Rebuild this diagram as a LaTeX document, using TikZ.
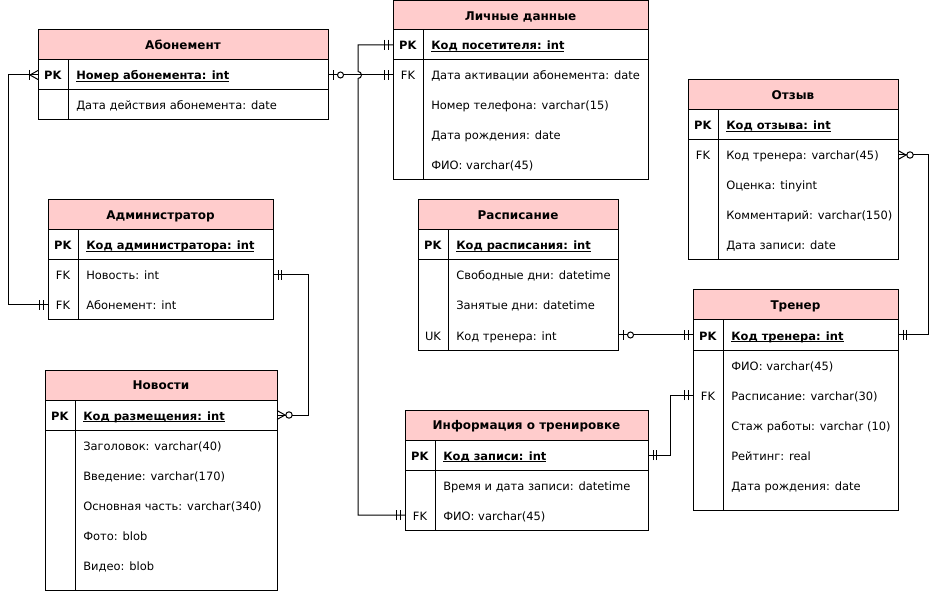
\documentclass[tikz,border=0pt]{standalone}
\usepackage{fontspec}
\setmainfont{DejaVu Sans}
\usetikzlibrary{decorations.markings}
\definecolor{hdrpink}{HTML}{FFCCCC}
\def\pxu{0.75pt}
\newcommand\pkul[1]{\setbox0\hbox{#1}\rlap{\rule[-1.8pt]{\wd0}{0.7pt}}\box0}
\newcommand\erbox[5]{% name, L, top, W, bottom
  \draw[tline] (#2,#3+30) rectangle (#2+#4,#5);
  \draw[tline] (#2,#3+60) -- (#2+#4,#3+60);
  \draw[tline] (#2+30,#3+30) -- (#2+30,#5);
}
\newcommand\erfield[6]{%
  \node[slot, minimum width=#4*\pxu, anchor=west] (#1) at (#2,#3) {};
  \ifx\relax#5\relax\else
  \node[keyt] (#1-k) at ([xshift=15*\pxu, yshift=-5*\pxu]#1.west) {#5};
  \fi
  \node[fieldt] (#1-t) at ([xshift=38*\pxu, yshift=-5*\pxu]#1.west) {#6};
}
\tikzset{
  tline/.style={draw=black, line width=\pxu},
  hdr/.style={draw=black, fill=hdrpink, line width=\pxu, inner sep=0pt, outer sep=0pt,
    minimum height=30*\pxu, text height=8.5pt, text depth=1.5pt,
    font=\fontsize{9}{11}\selectfont\bfseries},
  slot/.style={inner sep=0pt, outer sep=0pt, minimum height=30*\pxu},
  keyt/.style={inner sep=0pt, anchor=base, font=\fontsize{8.6}{11}\selectfont},
  fieldt/.style={inner sep=0pt, anchor=base west, font=\fontsize{8.6}{11}\selectfont},
  conn/.style={draw=black, line width=\pxu},
  mk/.style={draw=black, line width=\pxu},
  mandOneS/.style={postaction={decorate, decoration={markings,
    mark=at position 3.75pt with {\draw[mk] (0pt,-3.75pt) -- (0pt,3.75pt);},
    mark=at position 6.375pt with {\draw[mk] (0pt,-3.75pt) -- (0pt,3.75pt);}}}},
  mandOneE/.style={postaction={decorate, decoration={markings,
    mark=at position -3.75pt with {\draw[mk] (0pt,-3.75pt) -- (0pt,3.75pt);},
    mark=at position -6.375pt with {\draw[mk] (0pt,-3.75pt) -- (0pt,3.75pt);}}}},
  zeroOneS/.style={postaction={decorate, decoration={markings,
    mark=at position 3.75pt with {\draw[mk] (0pt,-3.75pt) -- (0pt,3.75pt);},
    mark=at position 9.375pt with {\draw[mk, fill=white] (0pt,0pt) circle (2.25pt);}}}},
  zeroManyS/.style={postaction={decorate, decoration={markings,
    mark=at position 6pt with {\draw[mk] (-6pt,3.375pt) -- (0pt,0pt) -- (-6pt,-3.375pt);},
    mark=at position 9pt with {\draw[mk, fill=white] (0pt,0pt) circle (2.4pt);}}}},
  zeroManyE/.style={postaction={decorate, decoration={markings,
    mark=at position -6pt with {\draw[mk] (6pt,3.375pt) -- (0pt,0pt) -- (6pt,-3.375pt);},
    mark=at position -9pt with {\draw[mk, fill=white] (0pt,0pt) circle (2.4pt);}}}},
  oneManyS/.style={postaction={decorate, decoration={markings,
    mark=at position 6pt with {\draw[mk] (-6pt,3.375pt) -- (0pt,0pt) -- (-6pt,-3.375pt);},
    mark=at position 6.4pt with {\draw[mk] (0pt,-3.75pt) -- (0pt,3.75pt);}}}},
}
\begin{document}
\begin{tikzpicture}[x=0.75pt, y=-0.75pt]
\useasboundingbox[fill=white] (0,0) rectangle (938,591);

% ---------- Абонемент ----------
\node[hdr, minimum width=290*\pxu, anchor=north west] (ab) at (38,30) {Абонемент};
\erbox{ab}{38}{30}{290}{120}
\erfield{ab-pk}{38}{75}{290}{\textbf{PK}}{\textbf{\pkul{Номер абонемента: int}}}
\erfield{ab-r1}{38}{105}{290}{}{Дата действия абонемента: date}

% ---------- Личные данные ----------
\node[hdr, minimum width=255*\pxu, minimum height=29*\pxu, anchor=north west] (ld) at (393,1) {Личные данные};
\erbox{ld}{393}{0}{255}{180}
\erfield{ld-pk}{393}{45}{255}{\textbf{PK}}{\textbf{\pkul{Код посетителя: int}}}
\erfield{ld-fk}{393}{75}{255}{FK}{Дата активации абонемента: date}
\erfield{ld-r2}{393}{105}{255}{}{Номер телефона: varchar(15)}
\erfield{ld-r3}{393}{135}{255}{}{Дата рождения: date}
\erfield{ld-r4}{393}{165}{255}{}{ФИО: varchar(45)}

% ---------- Отзыв ----------
\node[hdr, minimum width=210*\pxu, anchor=north west] (oz) at (688,80) {Отзыв};
\erbox{oz}{688}{80}{210}{260}
\erfield{oz-pk}{688}{125}{210}{\textbf{PK}}{\textbf{\pkul{Код отзыва: int}}}
\erfield{oz-fk}{688}{155}{210}{FK}{Код тренера: varchar(45)}
\erfield{oz-r2}{688}{185}{210}{}{Оценка: tinyint}
\erfield{oz-r3}{688}{215}{210}{}{Комментарий: varchar(150)}
\erfield{oz-r4}{688}{245}{210}{}{Дата записи: date}

% ---------- Администратор ----------
\node[hdr, minimum width=225*\pxu, anchor=north west] (ad) at (48,200) {Администратор};
\erbox{ad}{48}{200}{225}{320}
\erfield{ad-pk}{48}{245}{225}{\textbf{PK}}{\textbf{\pkul{Код администратора: int}}}
\erfield{ad-fk1}{48}{275}{225}{FK}{Новость: int}
\erfield{ad-fk2}{48}{305}{225}{FK}{Абонемент: int}

% ---------- Новости ----------
\node[hdr, minimum width=232*\pxu, anchor=north west] (nw) at (45,370) {Новости};
\erbox{nw}{45}{370}{232}{590}
\erfield{nw-pk}{45}{415}{232}{\textbf{PK}}{\textbf{\pkul{Код размещения: int}}}
\erfield{nw-r1}{45}{445}{232}{}{Заголовок: varchar(40)}
\erfield{nw-r2}{45}{475}{232}{}{Введение: varchar(170)}
\erfield{nw-r3}{45}{505}{232}{}{Основная часть: varchar(340)}
\erfield{nw-r4}{45}{535}{232}{}{Фото: blob}
\erfield{nw-r5}{45}{565}{232}{}{Видео: blob}

% ---------- Расписание ----------
\node[hdr, minimum width=200*\pxu, anchor=north west] (rs) at (418,200) {Расписание};
\erbox{rs}{418}{200}{200}{350}
\erfield{rs-pk}{418}{245}{200}{\textbf{PK}}{\textbf{\pkul{Код расписания: int}}}
\erfield{rs-r1}{418}{275}{200}{}{Свободные дни: datetime}
\erfield{rs-r2}{418}{305}{200}{}{Занятые дни: datetime}
\erfield{rs-uk}{418}{335}{200}{UK}{Код тренера: int}

% ---------- Тренер ----------
\node[hdr, minimum width=205*\pxu, anchor=north west] (tr) at (693,290) {Тренер};
\erbox{tr}{693}{290}{205}{510}
\erfield{tr-pk}{693}{335}{205}{\textbf{PK}}{\textbf{\pkul{Код тренера: int}}}
\erfield{tr-r1}{693}{365}{205}{}{ФИО: varchar(45)}
\erfield{tr-fk}{693}{395}{205}{FK}{Расписание: varchar(30)}
\erfield{tr-r3}{693}{425}{205}{}{Стаж работы: varchar (10)}
\erfield{tr-r4}{693}{455}{205}{}{Рейтинг: real}
\erfield{tr-r5}{693}{485}{205}{}{Дата рождения: date}

% ---------- Информация о тренировке ----------
\node[hdr, minimum width=243*\pxu, anchor=north west] (inf) at (405,410) {Информация о тренировке};
\erbox{inf}{405}{410}{243}{530}
\erfield{inf-pk}{405}{455}{243}{\textbf{PK}}{\textbf{\pkul{Код записи: int}}}
\erfield{inf-r1}{405}{485}{243}{}{Время и дата записи: datetime}
\erfield{inf-fk}{405}{515}{243}{FK}{ФИО: varchar(45)}

% ---------- connectors ----------
\draw[conn, oneManyS, mandOneE] (ab-pk.west) -- ++(-30,0) |- (ad-fk2.west);
\draw[conn, zeroOneS, mandOneE] (ab-pk.east) -- (ld-fk.west);
\draw[conn, mandOneS, mandOneE] (ld-pk.west) -- ++(-35,0) -- ++(0,26.5)
   arc[start angle=90, end angle=-90, radius=2.625pt] |- (inf-fk.west);
\draw[conn, mandOneS, zeroManyE] (ad-fk1.east) -- ++(35,0) |- (nw-pk.east);
\draw[conn, zeroOneS, mandOneE] (rs-uk.east) -- (tr-pk.west);
\draw[conn, mandOneS, mandOneE] (inf-pk.east) -- ++(22,0) |- (tr-fk.west);
\draw[conn, zeroManyS, mandOneE] (oz-fk.east) -- ++(30,0) |- (tr-pk.east);
\end{tikzpicture}
\end{document}
